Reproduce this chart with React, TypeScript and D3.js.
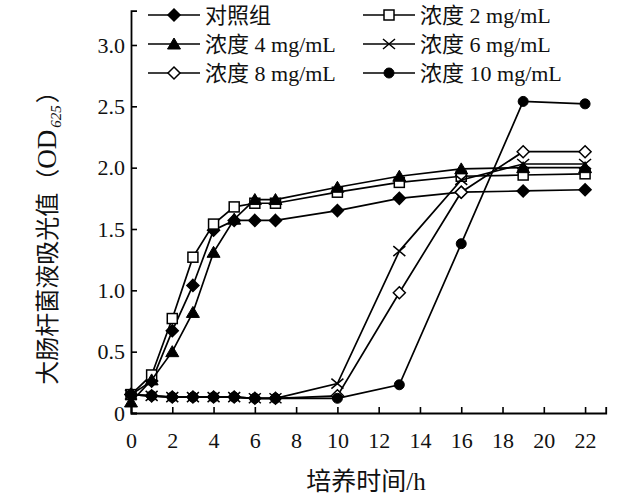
import { useEffect, useRef } from 'react';
import * as d3 from 'd3';

// sampling times (h)
const TIMES = [0, 1, 2, 3, 4, 5, 6, 7, 10, 13, 16, 19, 22];
const X_TICKS = [0, 2, 4, 6, 8, 10, 12, 14, 16, 18, 20, 22];
const Y_TICKS = [0, 0.5, 1.0, 1.5, 2.0, 2.5, 3.0];

// OD625 values
const CONTROL = [0.15, 0.26, 0.67, 1.04, 1.49, 1.57, 1.57, 1.57, 1.65, 1.75, 1.80, 1.81, 1.82];
const C2 = [0.15, 0.31, 0.77, 1.27, 1.54, 1.68, 1.71, 1.71, 1.80, 1.88, 1.93, 1.94, 1.95];
const C4 = [0.09, 0.27, 0.50, 0.82, 1.31, 1.58, 1.74, 1.74, 1.84, 1.93, 1.99, 2.00, 2.00];
const C6 = [0.15, 0.14, 0.13, 0.13, 0.13, 0.13, 0.12, 0.12, 0.24, 1.32, 1.90, 2.03, 2.03];
const C8 = [0.15, 0.14, 0.13, 0.13, 0.13, 0.13, 0.12, 0.12, 0.14, 0.98, 1.80, 2.13, 2.13];
const C10 = [0.15, 0.14, 0.13, 0.13, 0.13, 0.13, 0.12, 0.12, 0.12, 0.23, 1.38, 2.54, 2.52];

// legend labels: [chinese part, latin part]
const LABELS: [string, string][] = [
  ['对照组', ''],
  ['浓度', ' 2 mg/mL'],
  ['浓度', ' 4 mg/mL'],
  ['浓度', ' 6 mg/mL'],
  ['浓度', ' 8 mg/mL'],
  ['浓度', ' 10 mg/mL'],
];

type Marker = 'diamondFill' | 'square' | 'triangle' | 'cross' | 'diamondOpen' | 'circle';
const MARKERS: Marker[] = ['diamondFill', 'square', 'triangle', 'cross', 'diamondOpen', 'circle'];
const VALUES = [CONTROL, C2, C4, C6, C8, C10];

const CJK = "'Noto Sans CJK SC', sans-serif";
const SERIF = "'Liberation Serif', 'DejaVu Serif', serif";

function drawMarker(g: d3.Selection<SVGGElement, unknown, null, undefined>, kind: Marker, cx: number, cy: number) {
  const sw = 1.5;
  switch (kind) {
    case 'diamondFill':
    case 'diamondOpen': {
      const r = 6;
      g.append('path')
        .attr('d', `M${cx},${cy - r}L${cx + r},${cy}L${cx},${cy + r}L${cx - r},${cy}Z`)
        .attr('fill', kind === 'diamondFill' ? '#000' : '#fff')
        .attr('stroke', '#000').attr('stroke-width', sw);
      break;
    }
    case 'square':
      g.append('rect').attr('x', cx - 5).attr('y', cy - 5).attr('width', 10).attr('height', 10)
        .attr('fill', '#fff').attr('stroke', '#000').attr('stroke-width', sw);
      break;
    case 'triangle':
      g.append('path')
        .attr('d', `M${cx},${cy - 6}L${cx + 6.5},${cy + 5}L${cx - 6.5},${cy + 5}Z`)
        .attr('fill', '#000').attr('stroke', '#000').attr('stroke-width', 1);
      break;
    case 'cross':
      g.append('path')
        .attr('d', `M${cx - 6},${cy - 5}L${cx + 6},${cy + 5}M${cx - 6},${cy + 5}L${cx + 6},${cy - 5}`)
        .attr('fill', 'none').attr('stroke', '#000').attr('stroke-width', sw);
      break;
    case 'circle':
      g.append('circle').attr('cx', cx).attr('cy', cy).attr('r', 5)
        .attr('fill', '#000').attr('stroke', '#000').attr('stroke-width', 1);
      break;
  }
}

export default function App() {
  const svgRef = useRef<SVGSVGElement>(null);

  useEffect(() => {
    const el = svgRef.current;
    if (!el) return;
    const svg = d3.select(el);
    svg.selectAll('*').remove();

    const x = d3.scaleLinear().domain([0, 23]).range([131, 131 + 23 * 20.64]);
    const y = d3.scaleLinear().domain([0, 3.28]).range([413, 413 - 3.28 * 122.67]);

    const g = svg.append('g');

    // axes
    const xAxis = g.append('g').attr('transform', `translate(0,${y(0)})`)
      .call(d3.axisBottom(x).tickValues(X_TICKS).tickSizeInner(-6).tickSizeOuter(-6).tickPadding(19)
        .tickFormat((d) => `${d}`));
    const yAxis = g.append('g').attr('transform', `translate(${x(0)},0)`)
      .call(d3.axisLeft(y).tickValues(Y_TICKS).tickSizeInner(-6).tickSizeOuter(-6).tickPadding(6)
        .tickFormat((d) => (+d === 0 ? '0' : (+d).toFixed(1))));
    [xAxis, yAxis].forEach((a) => {
      a.selectAll('.domain').attr('stroke', '#000').attr('stroke-width', 1.8);
      a.selectAll('.tick line').attr('stroke', '#000').attr('stroke-width', 1.6);
      a.selectAll('.tick text').attr('fill', '#111').attr('font-size', '22px').attr('font-family', SERIF);
    });

    // series
    const line = d3.line<number>().x((_, i) => x(TIMES[i])).y((d) => y(d));
    VALUES.forEach((vals, si) => {
      const sg = g.append('g');
      sg.append('path').attr('d', line(vals) || '')
        .attr('fill', 'none').attr('stroke', '#000').attr('stroke-width', 1.7);
      vals.forEach((v, i) => drawMarker(sg, MARKERS[si], x(TIMES[i]), y(v)));
    });

    // legend
    const rows = [15, 44, 73];
    const cols = [148, 363];
    LABELS.forEach((lab, i) => {
      const lx = cols[i % 2];
      const ly = rows[Math.floor(i / 2)];
      const lg = g.append('g');
      lg.append('line').attr('x1', lx).attr('x2', lx + 52).attr('y1', ly).attr('y2', ly)
        .attr('stroke', '#000').attr('stroke-width', 1.6);
      drawMarker(lg, MARKERS[i], lx + 26, ly);
      const t = lg.append('text').attr('x', lx + 57).attr('y', ly + 8).attr('fill', '#111');
      t.append('tspan').attr('font-family', CJK).attr('font-size', '22px').text(lab[0]);
      if (lab[1]) t.append('tspan').attr('font-family', SERIF).attr('font-size', '22px').text(lab[1]);
    });

    // x title
    const xt = g.append('text').attr('x', 366).attr('y', 490).attr('text-anchor', 'middle').attr('fill', '#111');
    xt.append('tspan').attr('font-family', CJK).attr('font-size', '25px').text('培养时间');
    xt.append('tspan').attr('font-family', SERIF).attr('font-size', '25px').text('/h');

    // y title
    const yt = g.append('text').attr('transform', 'translate(56,232) rotate(-90)')
      .attr('text-anchor', 'middle').attr('fill', '#111');
    yt.append('tspan').attr('font-family', CJK).attr('font-size', '24px').text('大肠杆菌液吸光值（');
    yt.append('tspan').attr('font-family', SERIF).attr('font-size', '27px').text('OD');
    yt.append('tspan').attr('font-family', SERIF).attr('font-size', '15px').attr('font-style', 'italic')
      .attr('dy', 5).attr('dx', 2).text('625');
    yt.append('tspan').attr('font-family', CJK).attr('font-size', '24px').attr('dy', -5).attr('dx', 2).text('）');
  }, []);

  return (
    <svg ref={svgRef} width={644} height={502}
      style={{ position: 'absolute', left: 0, top: 0, background: '#fff' }} />
  );
}
